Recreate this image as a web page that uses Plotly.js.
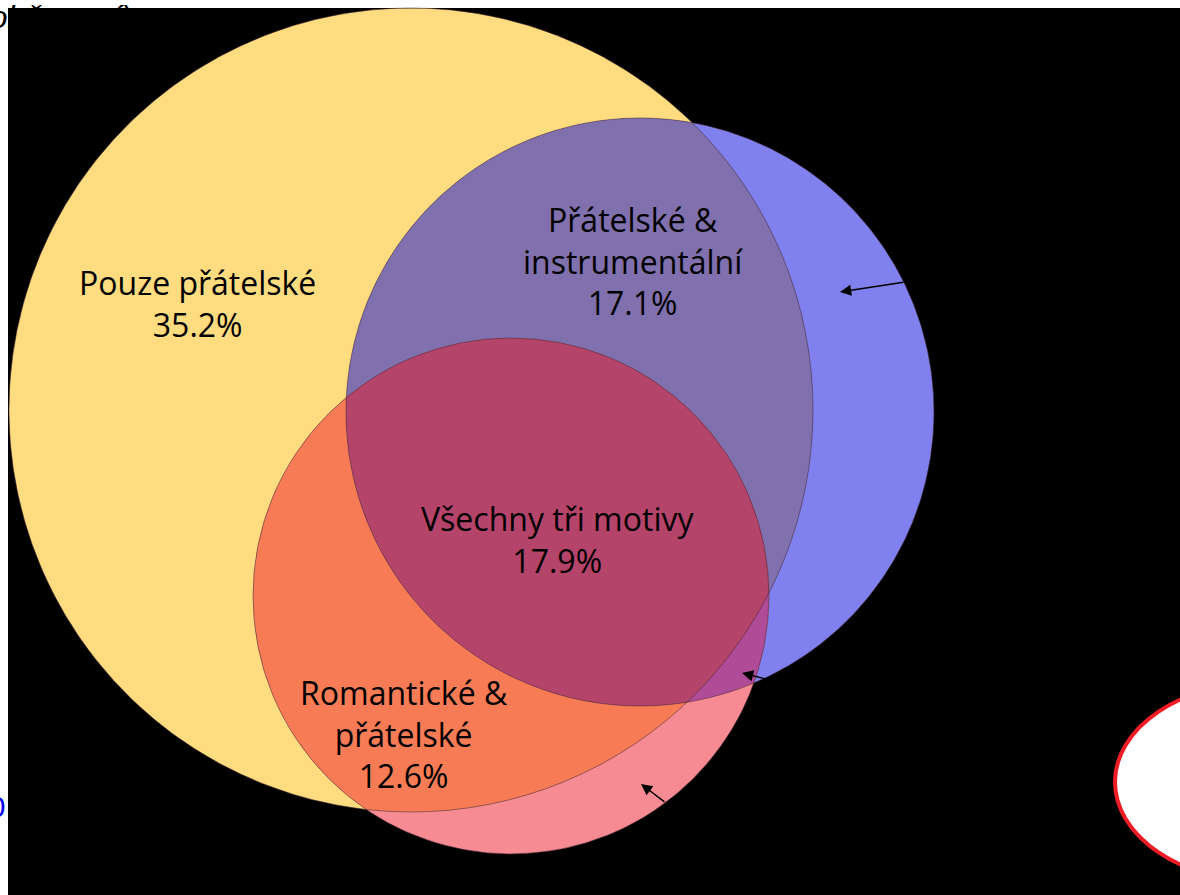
<!DOCTYPE html>
<html><head><meta charset="utf-8">
<script src="https://cdn.plot.ly/plotly-3.0.1.min.js"></script>
<style>html,body{margin:0;padding:0;background:#fff;overflow:hidden}</style>
</head><body><div id="chart" style="width:1180px;height:895px"></div>
<script>
// ---- data ----
const setNames = ['Přátelské', 'Instrumentální', 'Romantické'];
const regionLabels = ['Pouze přátelské', 'Přátelské &<br>instrumentální', 'Všechny tři motivy', 'Romantické &<br>přátelské'];
const regionValues = [35.2, 17.1, 17.9, 12.6];
const headerText = '(obě verzí)';
const cutLabel = '10';

// ---- layout geometry (pixel-space axes) ----
const GEOM = { cx: [411, 640, 511], cy: [410, 412, 596], r: [402, 294, 258] };
const LABELPOS = [[197, 303], [633, 261], [557, 539], [404, 734]];
const ARROWS = [
  { x: 840, y: 292, ax: 65, ay: -10 },
  { x: 742, y: 673, ax: 24, ay: 6 },
  { x: 641, y: 784, ax: 25, ay: 19 }
];
const REGIONS = [
  { set: [0], color: '#FFDC80' },
  { set: [1], color: '#8080EE' },
  { set: [2], color: '#F78B93' },
  { set: [0, 1], color: '#8070AD' },
  { set: [0, 2], color: '#F77C55' },
  { set: [1, 2], color: '#B04B98' },
  { set: [0, 1, 2], color: '#B5446B' }
];
const FONT = '"Open Sans", "Noto Sans", sans-serif';

function inside(i, x, y) {
  const dx = x - GEOM.cx[i], dy = y - GEOM.cy[i];
  return Math.sqrt(dx * dx + dy * dy) <= GEOM.r[i] + 1e-6;
}
function circleInter(i, j) {
  const x0 = GEOM.cx[i], y0 = GEOM.cy[i], r0 = GEOM.r[i];
  const x1 = GEOM.cx[j], y1 = GEOM.cy[j], r1 = GEOM.r[j];
  const d = Math.hypot(x1 - x0, y1 - y0);
  if (d > r0 + r1 || d < Math.abs(r0 - r1)) return [];
  const a = (r0 * r0 - r1 * r1 + d * d) / (2 * d);
  const h = Math.sqrt(Math.max(0, r0 * r0 - a * a));
  const xm = x0 + a * (x1 - x0) / d, ym = y0 + a * (y1 - y0) / d;
  return [[xm + h * (y1 - y0) / d, ym - h * (x1 - x0) / d], [xm - h * (y1 - y0) / d, ym + h * (x1 - x0) / d]];
}
function regionPoly(set) {
  const N = 1440, pts = [];
  set.forEach(i => {
    for (let k = 0; k < N; k++) {
      const t = 2 * Math.PI * k / N;
      const x = GEOM.cx[i] + GEOM.r[i] * Math.cos(t), y = GEOM.cy[i] + GEOM.r[i] * Math.sin(t);
      if (set.every(j => j === i || inside(j, x, y))) pts.push([x, y]);
    }
  });
  for (let a = 0; a < set.length; a++) for (let b = a + 1; b < set.length; b++) {
    circleInter(set[a], set[b]).forEach(p => {
      if (set.every(j => j === set[a] || j === set[b] || inside(j, p[0], p[1]))) pts.push(p);
    });
  }
  const mx = pts.reduce((s, p) => s + p[0], 0) / pts.length;
  const my = pts.reduce((s, p) => s + p[1], 0) / pts.length;
  pts.sort((p, q) => Math.atan2(p[1] - my, p[0] - mx) - Math.atan2(q[1] - my, q[0] - mx));
  pts.push(pts[0]);
  return { x: pts.map(p => p[0]), y: pts.map(p => p[1]) };
}

const traces = [];
// header text partially hidden behind the black frame
traces.push({
  type: 'scatter', mode: 'text', x: [-21], y: [20], text: [headerText],
  textposition: 'middle right',
  textfont: { family: '"Liberation Sans", Arial, sans-serif', size: 32, color: '#000', style: 'italic' },
  hoverinfo: 'skip', showlegend: false
});
// black frame
traces.push({
  type: 'scatter', mode: 'lines', x: [8, 1200, 1200, 8, 8], y: [8, 8, 920, 920, 8],
  fill: 'toself', fillcolor: '#000', line: { width: 0 }, hoverinfo: 'skip', showlegend: false
});
REGIONS.forEach(rg => {
  const p = regionPoly(rg.set);
  traces.push({
    type: 'scatter', mode: 'lines', x: p.x, y: p.y, fill: 'toself', fillcolor: rg.color,
    line: { width: 0, color: rg.color }, hoverinfo: 'skip', showlegend: false,
    name: rg.set.map(i => setNames[i]).join(' & ')
  });
});

const shapes = GEOM.cx.map((cx, i) => ({
  type: 'circle', xref: 'x', yref: 'y', layer: 'above',
  x0: cx - GEOM.r[i], x1: cx + GEOM.r[i], y0: GEOM.cy[i] - GEOM.r[i], y1: GEOM.cy[i] + GEOM.r[i],
  line: { color: 'rgba(70,40,50,0.55)', width: 1 }, fillcolor: 'rgba(0,0,0,0)'
}));
shapes.push({
  type: 'circle', xref: 'x', yref: 'y', layer: 'above',
  x0: 1115, x1: 1415, y0: 682, y1: 882,
  line: { color: '#EE1D25', width: 4 }, fillcolor: '#FFFFFF'
});

const annotations = regionLabels.map((lab, i) => ({
  x: LABELPOS[i][0], y: LABELPOS[i][1], xref: 'x', yref: 'y',
  text: lab + '<br>' + regionValues[i].toFixed(1) + '%',
  showarrow: false, xanchor: 'center', yanchor: 'middle', align: 'center',
  font: { family: FONT, size: 32, color: '#000' }
}));
ARROWS.forEach(a => annotations.push({
  x: a.x, y: a.y, ax: a.ax, ay: a.ay, xref: 'x', yref: 'y', text: '',
  showarrow: true, arrowhead: 2, arrowsize: 1.6, arrowwidth: 1.4, arrowcolor: '#000', standoff: 0
}));
annotations.push({
  x: 7, y: 806, xref: 'x', yref: 'y', text: cutLabel, showarrow: false,
  xanchor: 'right', yanchor: 'middle',
  font: { family: '"Liberation Sans", Arial, sans-serif', size: 30, color: '#0000EE' }
});

const layout = {
  width: 1180, height: 895,
  margin: { l: 0, r: 0, t: 0, b: 0, pad: 0 },
  paper_bgcolor: '#FFFFFF', plot_bgcolor: '#FFFFFF',
  xaxis: { range: [0, 1180], visible: false, fixedrange: true },
  yaxis: { range: [895, 0], visible: false, fixedrange: true },
  showlegend: false, shapes: shapes, annotations: annotations
};
Plotly.newPlot('chart', traces, layout, { displayModeBar: false, staticPlot: true });
</script></body></html>
